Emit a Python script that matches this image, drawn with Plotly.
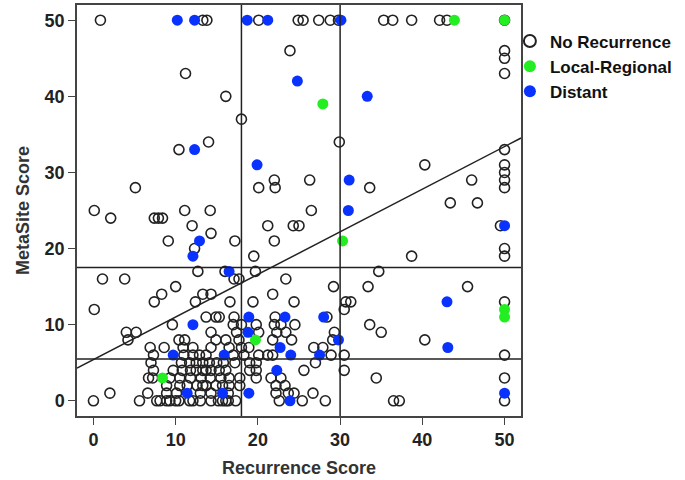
import plotly.graph_objects as go

# ---- data (Recurrence Score, MetaSite Score) ----
none_x = [0.85, 13.3, 13.8, 20.1, 24.9, 25.5, 27.4, 28.8, 29.8, 35.3, 36.4, 38.7, 42.1, 43.0, 50,
          23.9, 11.2, 16.1, 18.0, 14.0, 29.9, 10.4, 22.0, 20.1, 22.1, 5.1, 26.3, 33.6, 40.3, 46.0,
          43.4, 46.7, 0.1, 2.1, 7.4, 7.9, 8.4, 11.1, 14.2, 26.5, 12.0, 14.3, 9.1, 12.3, 17.2, 19.5,
          21.2, 22.0, 24.3, 25.0, 38.7,
          50, 50, 50, 50, 50, 50, 50, 49.5, 50, 50, 50, 50, 50, 50,
          1.1, 3.8, 12.7, 16.0, 17.1, 17.7, 19.7, 23.4, 10.0, 34.7, 33.4, 45.5, 29.2,
          8.3, 7.4, 13.3, 14.3, 12.4, 16.6, 19.4, 21.8, 24.4, 0.1, 30.7, 31.3, 30.5,
          13.7, 14.9, 15.3, 17.1, 22.1, 28.4,
          9.6, 17.0, 18.0, 19.8, 22.0, 22.8, 24.5, 33.6,
          4.0, 5.2, 14.3, 17.4, 20.1, 22.3, 23.4, 29.3, 35.0,
          4.2, 10.4, 11.1, 14.9, 16.1, 17.7, 21.8, 24.1, 29.1, 40.3,
          6.9, 8.6, 10.9, 12.1, 14.3, 16.5, 18.0, 18.9, 26.8, 27.9,
          7.3, 11.0, 12.1, 12.9, 13.7, 17.0, 18.3, 20.1, 21.2, 21.8, 28.9, 30.5,
          7.0, 10.7, 11.7, 12.5, 13.3, 14.1, 15.0, 15.8, 17.2, 19.0, 19.8, 27.0,
          7.3, 9.7, 10.8, 11.8, 12.5, 13.3, 13.7, 14.3, 15.3, 16.1, 19.0, 19.8, 25.6, 30.5,
          6.7, 7.2, 9.3, 10.5, 11.8, 13.1, 14.2, 15.5, 16.5, 17.8, 19.8, 21.6, 22.8, 34.4,
          8.9, 10.5, 11.4, 12.6, 13.3, 13.7, 14.9, 15.7, 16.5, 17.8, 22.2, 23.3,
          2.0, 6.6, 8.9, 10.1, 13.0, 14.3, 16.4, 22.2, 23.7, 24.4, 26.7,
          0.0, 5.6, 7.7, 8.1, 8.9, 9.3, 10.0, 10.4, 11.7, 12.1, 13.0, 14.3, 15.2, 15.7, 16.1,
          16.4, 17.3, 22.6, 25.4, 28.2, 36.5, 37.2, 50]
none_y = [50, 50, 50, 50, 50, 50, 50, 50, 50, 50, 50, 50, 50, 50, 50,
          46, 43, 40, 37, 34, 34, 33, 29, 28, 28, 28, 29, 28, 31, 29,
          26, 26, 25, 24, 24, 24, 24, 25, 25, 25, 23, 22, 21, 20, 21, 19,
          23, 21, 23, 23, 19,
          46, 45, 43, 33, 31, 30, 29, 23, 28, 20, 19, 13, 6, 3,
          16, 16, 17, 17, 16, 16, 17, 16, 15, 17, 15, 15, 15,
          14, 13, 14, 14, 13, 13, 13, 14, 13, 12, 13, 13, 12,
          11, 11, 11, 11, 11, 11,
          10, 10, 10, 10, 10, 10, 10, 10,
          9, 9, 9, 9, 9, 9, 9, 9, 9,
          8, 8, 8, 8, 8, 8, 8, 8, 8, 8,
          7, 7, 7, 7, 7, 7, 7, 7, 7, 7,
          6, 6, 6, 6, 6, 6, 6, 6, 6, 6, 6, 6,
          5, 5, 5, 5, 5, 5, 5, 5, 5, 5, 5, 5,
          4, 4, 4, 4, 4, 4, 4, 4, 4, 4, 4, 4, 4, 4,
          3, 3, 3, 3, 3, 3, 3, 3, 3, 3, 3, 3, 3, 3,
          2, 2, 2, 2, 2, 2, 2, 2, 2, 2, 2, 2,
          1, 1, 1, 1, 1, 1, 1, 1, 1, 1, 1,
          0, 0, 0, 0, 0, 0, 0, 0, 0, 0, 0, 0, 0, 0, 0,
          0, 0, 0, 0, 0, 0, 0, 0]

local_x = [43.9, 50, 27.9, 30.3, 19.7, 8.4, 50, 50]
local_y = [50, 50, 39, 21, 8, 3, 12, 11]

distant_x = [10.2, 12.3, 18.7, 21.2, 30.1, 24.8, 33.3, 12.3, 19.9, 31.1, 31.0, 50, 12.9, 12.1,
             16.5, 43.0, 28.0, 18.9, 23.3, 12.1, 18.8, 9.7, 15.9, 22.7, 24.0, 29.8, 27.5, 43.1,
             22.3, 11.4, 15.7, 18.9, 23.9, 50]
distant_y = [50, 50, 50, 50, 50, 42, 40, 33, 31, 29, 25, 23, 21, 19,
             17, 13, 11, 11, 11, 10, 9, 6, 6, 7, 6, 8, 6, 7,
             4, 1, 1, 1, 0, 1]

series_names = ["No Recurrence", "Local-Regional", "Distant"]

# cut-off lines and fitted line
v_cuts = [18, 30]
h_cuts = [17.5, 5.5]
fit_intercept = 5.4
fit_slope = 0.56
x_range = [-2, 52]
y_range = [-2, 52]
ticks = [0, 10, 20, 30, 40, 50]

FONT = "Liberation Sans"
fig = go.Figure()

fig.add_trace(go.Scatter(x=none_x, y=none_y, mode="markers", name=f"<b>{series_names[0]}</b>",
                         marker=dict(symbol="circle-open", size=10, color="#222222",
                                     line=dict(width=1.6, color="#222222"))))
fig.add_trace(go.Scatter(x=local_x, y=local_y, mode="markers", name=f"<b>{series_names[1]}</b>",
                         marker=dict(symbol="circle", size=11, color="#22ee22")))
fig.add_trace(go.Scatter(x=distant_x, y=distant_y, mode="markers", name=f"<b>{series_names[2]}</b>",
                         marker=dict(symbol="circle", size=11, color="#0a32ff")))

fit_x = x_range
fit_y = [fit_intercept + fit_slope * v for v in fit_x]
fig.add_trace(go.Scatter(x=fit_x, y=fit_y, mode="lines", showlegend=False,
                         line=dict(color="#222222", width=1.5), hoverinfo="skip"))

for v in v_cuts:
    fig.add_shape(type="line", xref="x", yref="paper", x0=v, x1=v, y0=0, y1=1,
                  line=dict(color="#222222", width=1.5))
for h in h_cuts:
    fig.add_shape(type="line", xref="paper", yref="y", x0=0, x1=1, y0=h, y1=h,
                  line=dict(color="#222222", width=1.5))

axis_common = dict(showgrid=False, zeroline=False, showline=True, mirror=True,
                   linecolor="#444444", linewidth=1.5, ticks="outside", ticklen=7,
                   tickwidth=1.2, tickcolor="#444444", tickvals=ticks,
                   tickfont=dict(family=FONT, size=18, color="#222222"))

fig.update_xaxes(range=x_range, title=dict(text="<b>Recurrence Score</b>",
                 font=dict(family=FONT, size=18, color="#333333"), standoff=12),
                 ticktext=[f"<b>{t}</b>" for t in ticks], **axis_common)
fig.update_yaxes(range=y_range, title=dict(text="<b>MetaSite Score</b>",
                 font=dict(family=FONT, size=18, color="#333333"), standoff=10),
                 ticktext=[f"<b>{t}</b>" for t in ticks], **axis_common)

fig.update_layout(
    width=685, height=480,
    margin=dict(l=77, r=164, t=3, b=64),
    plot_bgcolor="white", paper_bgcolor="white",
    showlegend=True,
    legend=dict(x=0.975, y=0.955, xanchor="left", yanchor="top",
                font=dict(family=FONT, size=17, color="#111111"),
                bgcolor="rgba(0,0,0,0)", itemwidth=30, tracegroupgap=0,
                itemsizing="constant"),
)

fig.write_html("out.html", post_script="document.body.style.margin='0px';",
               config={"displayModeBar": False})
